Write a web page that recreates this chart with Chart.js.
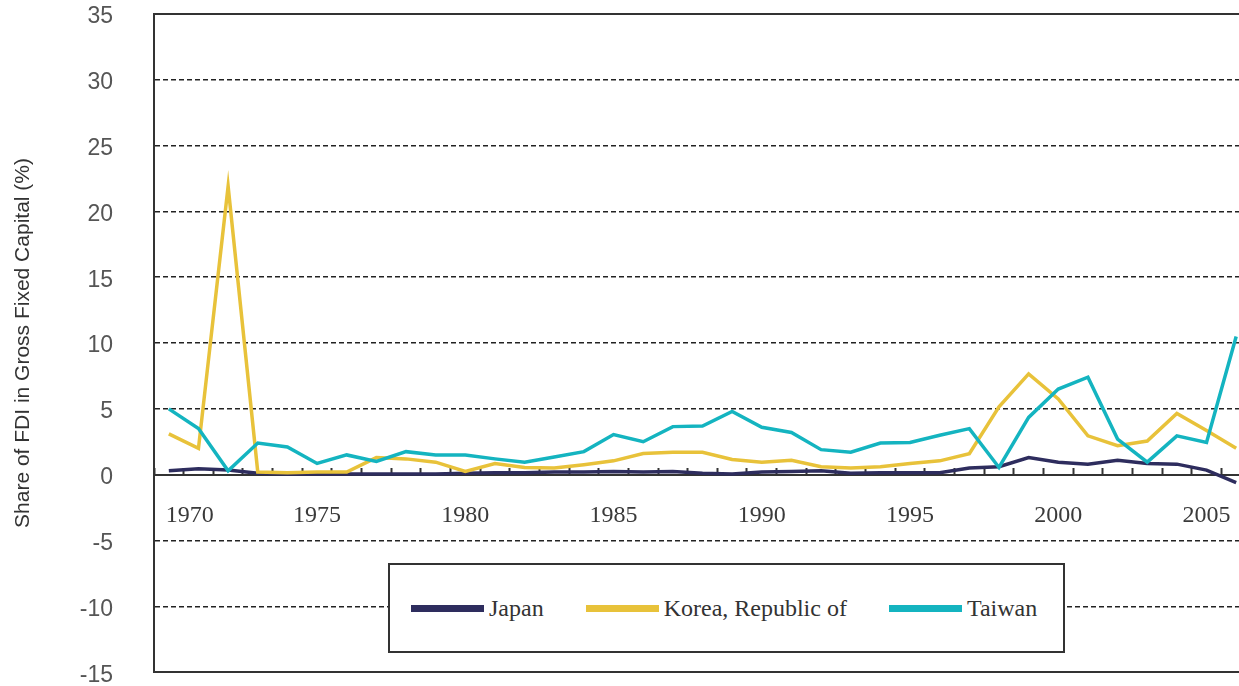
<!DOCTYPE html>
<html>
<head>
<meta charset="utf-8">
<title>Share of FDI in Gross Fixed Capital</title>
<script src="https://cdn.jsdelivr.net/npm/chart.js@4.4.1/dist/chart.umd.min.js"></script>
<style>
  html, body { margin: 0; padding: 0; background: #fff; overflow: hidden; }
  /* the plot runs past the right edge of the window, as in the original crop */
  #wrap { position: relative; width: 1276px; height: 686px; }
  #legend {
    position: absolute; left: 388px; top: 563px; width: 677px; height: 90px;
    box-sizing: border-box; border: 2px solid #333; background: #fff;
    display: flex; align-items: center; padding-left: 21px;
    font-family: 'Liberation Serif', serif; font-size: 24px; color: #333;
  }
  .item { display: flex; align-items: center; margin-right: 42px; white-space: nowrap; flex-shrink: 0; }
  .swatch { width: 73px; height: 7px; margin-right: 5px; }
</style>
</head>
<body>
<div id="wrap">
  <canvas id="fdiChart"></canvas>
  <div id="legend"></div>
</div>
<script>
// years on the x axis, one point per year
const years = [];
for (let y = 1970; y <= 2006; y++) years.push(y);

// only these years get a label under the axis
const labelledYears = [1970, 1975, 1980, 1985, 1990, 1995, 2000, 2005];

const yTicks = [-15, -10, -5, 0, 5, 10, 15, 20, 25, 30, 35];

// values (% of gross fixed capital)
const japan = [
  0.3, 0.45, 0.35, 0.1, 0.05, 0.05, 0.05, 0.05, 0.05, 0.05,
  0.1, 0.15, 0.15, 0.2, 0.2, 0.25, 0.2, 0.25, 0.1, 0.05,
  0.2, 0.25, 0.3, 0.1, 0.15, 0.15, 0.15, 0.5, 0.6, 1.3,
  0.95, 0.8, 1.1, 0.85, 0.8, 0.35, -0.6
];
const korea = [
  3.1, 2.0, 21.9, 0.2, 0.15, 0.2, 0.2, 1.3, 1.2, 0.95,
  0.25, 0.85, 0.55, 0.5, 0.75, 1.05, 1.6, 1.7, 1.7, 1.15,
  0.95, 1.1, 0.6, 0.5, 0.6, 0.85, 1.05, 1.6, 5.15, 7.65,
  5.75, 2.95, 2.2, 2.55, 4.65, 3.35, 2.0
];
const taiwan = [
  5.0, 3.5, 0.3, 2.4, 2.1, 0.85, 1.5, 1.0, 1.75, 1.5,
  1.5, 1.2, 0.95, 1.35, 1.75, 3.05, 2.5, 3.65, 3.7, 4.8,
  3.6, 3.2, 1.9, 1.7, 2.4, 2.45, 3.0, 3.5, 0.55, 4.35,
  6.5, 7.4, 2.7, 0.95, 2.95, 2.45, 10.5
];

const seriesNames = ['Japan', 'Korea, Republic of', 'Taiwan'];
const seriesColors = ['#2e2d5e', '#e8c23a', '#14b4c0'];

const frameColor = '#333333';

// plain axes used only to draw the solid top and bottom of the frame
const frameAxis = (position) => ({
  type: 'category',
  position: position,
  offset: true,
  grid: { display: false },
  ticks: { display: false },
  border: { color: frameColor, width: 2 }
});

const ctx = document.getElementById('fdiChart').getContext('2d');

const chart = new Chart(ctx, {
  type: 'line',
  data: {
    labels: years,
    datasets: [japan, korea, taiwan].map((values, i) => ({
      label: seriesNames[i],
      data: values,
      borderColor: seriesColors[i],
      backgroundColor: seriesColors[i],
      borderWidth: 3.5,
      pointRadius: 0,
      tension: 0,
      fill: false,
      order: 3 - i
    }))
  },
  options: {
    responsive: true,
    maintainAspectRatio: false,
    animation: false,
    layout: {
      padding: { left: 0, right: 25, top: 0, bottom: 0 }
    },
    plugins: {
      legend: { display: false },
      tooltip: { enabled: false }
    },
    scales: {
      x: {
        type: 'category',
        position: { y: 0 },
        offset: true,
        grid: {
          offset: true,
          drawOnChartArea: false,
          color: frameColor,
          tickLength: -8,
          tickWidth: 2
        },
        border: { color: frameColor, width: 2 },
        ticks: {
          autoSkip: false,
          maxRotation: 0,
          padding: 35,
          color: '#3a3a3a',
          font: { family: "'Liberation Serif', serif", size: 24 },
          callback: function(value, index) {
            const year = years[index];
            if (!labelledYears.includes(year)) return '';
            // the first label sits a bit to the right of its point, clear of the axis
            return index === 0 ? '       ' + year : String(year);
          }
        }
      },
      xTop: frameAxis('top'),
      xBottom: frameAxis('bottom'),
      y: {
        min: -15,
        max: 35,
        afterBuildTicks: function(scale) {
          scale.ticks = yTicks.map(v => ({ value: v }));
        },
        afterFit: function(scale) {
          scale.width = 154;
        },
        grid: {
          drawTicks: true,
          tickLength: 41,
          tickColor: 'rgba(0,0,0,0)',
          lineWidth: 1.4,
          color: function(c) {
            const v = c.tick ? c.tick.value : null;
            // frame edges and the zero line are drawn solid by the axes
            return (v === 35 || v === -15 || v === 0) ? 'rgba(0,0,0,0)' : '#222222';
          }
        },
        border: { color: frameColor, width: 2, dash: [5, 3] },
        ticks: {
          padding: 0,
          labelOffset: 3,
          color: '#555555',
          font: { family: "'Liberation Sans', Arial, sans-serif", size: 23 },
          callback: function(value) {
            return String(value);
          }
        },
        title: {
          display: true,
          text: 'Share of FDI in Gross Fixed Capital (%)',
          color: '#333333',
          padding: { top: 11, bottom: 0 },
          font: { family: "'Liberation Sans', Arial, sans-serif", size: 21 }
        }
      }
    }
  }
});

// legend box drawn inside the plot, like the original figure
const legendEl = document.getElementById('legend');
chart.data.datasets.forEach(ds => {
  const item = document.createElement('div');
  item.className = 'item';
  const swatch = document.createElement('span');
  swatch.className = 'swatch';
  swatch.style.background = ds.borderColor;
  const text = document.createElement('span');
  text.textContent = ds.label;
  item.appendChild(swatch);
  item.appendChild(text);
  legendEl.appendChild(item);
});
</script>
</body>
</html>
